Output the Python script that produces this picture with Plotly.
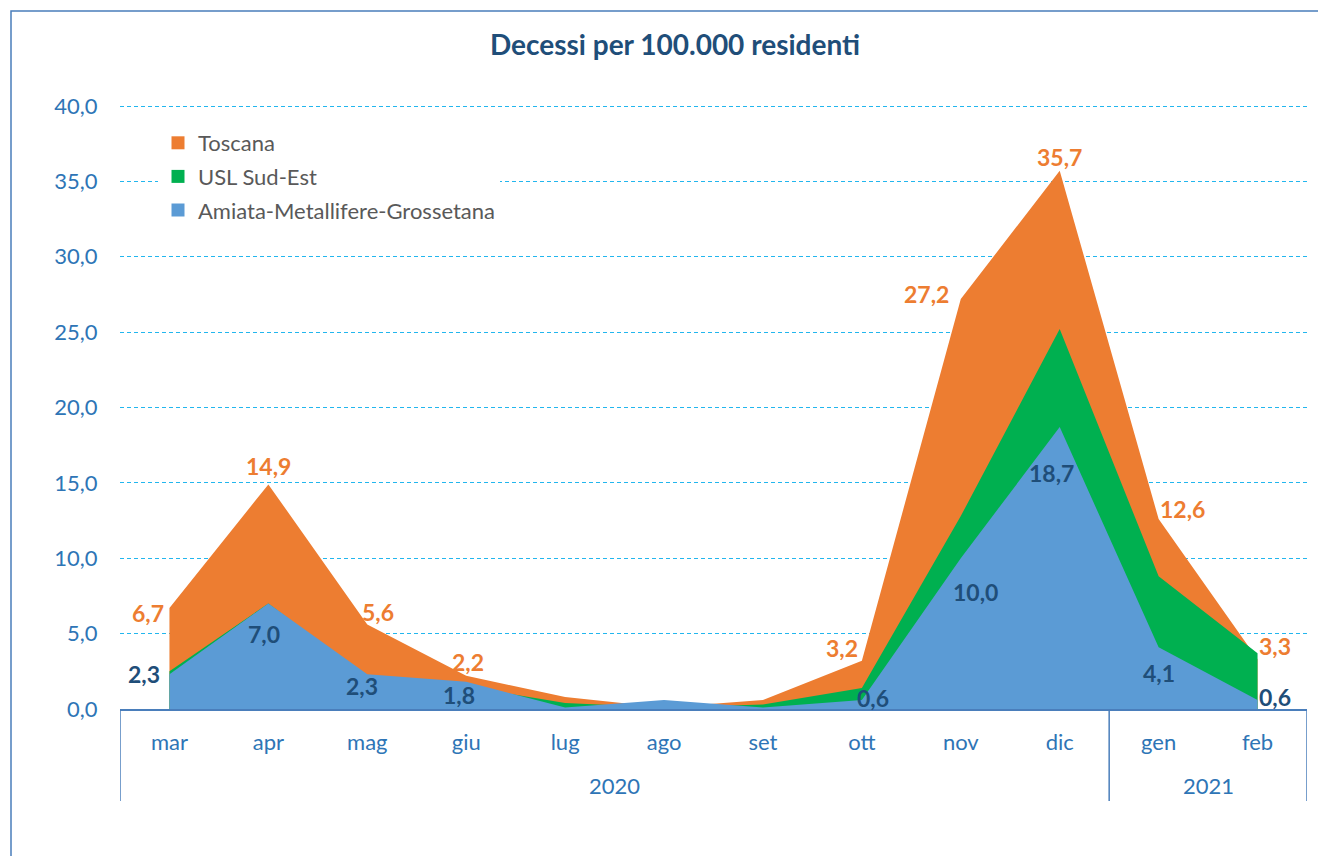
import plotly.graph_objects as go

months = ["mar", "apr", "mag", "giu", "lug", "ago", "set", "ott", "nov", "dic", "gen", "feb"]
years = ["2020", "2021"]
toscana = [6.7, 14.9, 5.6, 2.2, 0.8, 0.1, 0.6, 3.2, 27.2, 35.7, 12.6, 3.3]
usl = [2.5, 7.0, 2.1, 1.5, 0.4, 0.1, 0.3, 1.4, 12.8, 25.2, 8.8, 3.7]
amiata = [2.3, 7.0, 2.3, 1.8, 0.1, 0.6, 0.1, 0.6, 10.0, 18.7, 4.1, 0.6]

# which points get a data label (index -> (xshift, yshift))
tos_lbl = {0: (-21, -5), 1: (0, 18), 2: (11, 13), 3: (2, 14), 7: (-20, 13),
           8: (-34, 5), 9: (0, 14), 10: (24, 10), 11: (17, 13)}
ami_lbl = {0: (-25, 0), 1: (-4, -31), 2: (-5, -12), 3: (-7, -13), 7: (11, 2),
           8: (15, -34), 9: (-8, -46), 10: (0, -26), 11: (17, 3)}

C_OR = "#ED7D31"
C_GR = "#00B050"
C_BL = "#5B9BD5"
C_NAVY = "#1F4E79"
C_AX = "#2E75B6"
C_LINE = "#4A7EBB"
FONT = "Lato"

xs = list(range(len(months)))

fig = go.Figure()
for name, vals, col in [("Toscana", toscana, C_OR), ("USL Sud-Est", usl, C_GR),
                        ("Amiata-Metallifere-Grossetana", amiata, C_BL)]:
    fig.add_trace(go.Scatter(x=xs, y=vals, mode="lines", fill="tozeroy",
                             fillcolor=col, line=dict(width=0, color=col),
                             showlegend=False, hoverinfo="skip"))

for i, (name, col) in enumerate([("Toscana", C_OR), ("USL Sud-Est", C_GR),
                                 ("Amiata-Metallifere-Grossetana", C_BL)]):
    fig.add_trace(go.Scatter(x=[None], y=[None], mode="markers", name=name,
                             legendgroup=f"g{i}",
                             marker=dict(symbol="square", size=13, color=col)))

ann = []
for i, (dx, dy) in tos_lbl.items():
    ann.append(dict(x=xs[i], y=toscana[i], xref="x", yref="y",
                    text=f"{toscana[i]:.1f}".replace(".", ","), showarrow=False,
                    xshift=dx, yshift=dy,
                    font=dict(family=FONT, size=23, color=C_OR, weight="bold")))
for i, (dx, dy) in ami_lbl.items():
    ann.append(dict(x=xs[i], y=amiata[i], xref="x", yref="y",
                    text=f"{amiata[i]:.1f}".replace(".", ","), showarrow=False,
                    xshift=dx, yshift=dy,
                    font=dict(family=FONT, size=23, color=C_NAVY, weight="bold")))

# page body has an 8px margin: figure pixel = window pixel - 8
OFF = 8
W, H = 1326 - OFF, 856 - OFF
PL, PR = 120, 1307          # plot area in window pixels
PT, PB = 100, 709
ph = PB - PT
pw = PR - PL
def py(pix):
    return (PB - pix) / ph
def px(pix):
    return (pix - PL) / pw

ann.append(dict(x=4.5, y=py(785), xref="x", yref="paper", text=years[0], showarrow=False,
                yanchor="middle", font=dict(family=FONT, size=22, color=C_AX)))
ann.append(dict(x=10.5, y=py(785), xref="x", yref="paper", text=years[1], showarrow=False,
                yanchor="middle", font=dict(family=FONT, size=22, color=C_AX)))

shapes = []
for xv in [-0.5, 9.5, 11.5]:
    shapes.append(dict(type="line", xref="x", yref="paper", x0=xv, x1=xv,
                       y0=0, y1=py(801), line=dict(color=C_LINE, width=1.5)))
# outer chart border
shapes.append(dict(type="rect", xref="paper", yref="paper",
                   x0=px(11), x1=1.2, y0=-1, y1=py(11),
                   line=dict(color=C_LINE, width=1.5), fillcolor="rgba(0,0,0,0)"))

fig.update_layout(
    width=W, height=H,
    margin=dict(l=PL - OFF, r=1326 - PR, t=PT - OFF, b=856 - PB),
    paper_bgcolor="white", plot_bgcolor="white",
    separators=", ",
    title=dict(text="<b>Decessi per 100.000 residenti</b>", x=(675 - OFF) / W, xanchor="center",
               y=1 - (45 - OFF) / H, yanchor="middle",
               font=dict(family=FONT, size=28, color=C_NAVY)),
    showlegend=True,
    legend=dict(x=px(158), y=py(122), xanchor="left", yanchor="top",
                bgcolor="white", borderwidth=0, traceorder="grouped", tracegroupgap=2,
                font=dict(family=FONT, size=22, color="#595959")),
    xaxis=dict(range=[-0.5, 11.5], tickvals=xs, ticktext=months, showgrid=False,
               zeroline=False, showline=True, linecolor=C_LINE, linewidth=1.5,
               ticks="outside", ticklen=13, tickcolor="rgba(0,0,0,0)",
               tickfont=dict(family=FONT, size=22, color=C_AX), fixedrange=True),
    yaxis=dict(range=[0, 40 * ph / (PB - 106)], tickvals=[0, 5, 10, 15, 20, 25, 30, 35, 40],
               tickformat=".1f", showgrid=True, gridcolor="#22B6EE", griddash="4px,3px",
               gridwidth=1.2, zeroline=False, showline=False,
               ticks="outside", ticklen=17, tickcolor="rgba(0,0,0,0)",
               tickfont=dict(family=FONT, size=22, color=C_AX), fixedrange=True),
    annotations=ann, shapes=shapes,
)

fig.write_html("out.html")
